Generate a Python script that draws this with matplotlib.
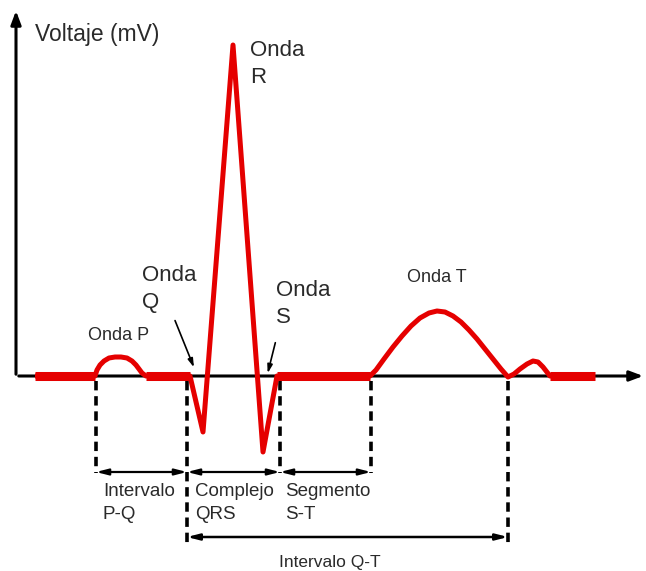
import matplotlib.pyplot as plt

plt.rcParams['font.family'] = ['Liberation Sans', 'DejaVu Sans']

# trace (pixel coords, y grows downwards)
trace_x = [35, 95, 97, 100, 104, 109, 115, 121, 127, 132, 136, 139, 142, 146, 190, 203, 233, 263, 277,
           370, 376, 384, 393, 402, 411, 420, 429, 437, 445, 453, 461, 469, 477, 485, 493, 501, 508,
           514, 520, 527, 533, 538, 543, 550, 595]
trace_y = [376, 376, 370, 365, 361, 358, 357, 357, 358, 361, 365, 369, 373, 376, 376, 432, 45, 452, 376,
           376, 370, 359, 347, 336, 326, 318, 313, 311, 312, 316, 322, 330, 339, 349, 359, 369, 377,
           374, 369, 364, 361, 362, 367, 376, 376]
# flat stretches drawn thicker
flat_x = [(35, 95), (146, 190), (277, 370), (550, 595)]
baseline = 376

# dashed markers and interval arrows
mark_x = [96, 187, 280, 371, 508]
mark_bottom = [473, 545, 473, 473, 545]
spans = [(96, 187), (187, 280), (280, 371)]
span_y = 472
qt_span = (187, 508)
qt_y = 537

wave_labels = [
    ("Onda\nR", 250, 40),
    ("Onda\nQ", 142, 265),
    ("Onda\nS", 276, 280),
]
small_labels = [("Onda P", 88, 336), ("Onda T", 407, 278)]
interval_labels = [
    ("Intervalo\nP-Q", 103, 483),
    ("Complejo\nQRS", 195, 483),
    ("Segmento\nS-T", 285, 483),
]

RED = '#e50000'
TXT = '#2a2a2a'

fig = plt.figure(figsize=(6.46, 5.71), dpi=100)
ax = fig.add_axes([0, 0, 1, 1])
ax.set_xlim(0, 646)
ax.set_ylim(571, 0)
ax.axis('off')

# axes arrows
ax.annotate('', xy=(16, 8), xytext=(16, baseline + 1),
            arrowprops=dict(arrowstyle='-|>,head_length=0.8,head_width=0.3', lw=2.2, color='black'))
ax.annotate('', xy=(646, baseline), xytext=(16, baseline),
            arrowprops=dict(arrowstyle='-|>,head_length=0.8,head_width=0.3', lw=2.2, color='black'))

# ecg trace
ax.plot(trace_x, trace_y, color=RED, lw=3.6, solid_joinstyle='round', solid_capstyle='butt', zorder=3)
for x0, x1 in flat_x:
    ax.plot([x0, x1], [baseline, baseline], color=RED, lw=6.5, solid_capstyle='butt', zorder=3)

# dashed verticals
for x, yb in zip(mark_x, mark_bottom):
    ax.plot([x, x], [381, yb], color='black', lw=2.6, linestyle=(0, (2.6, 1.6)), zorder=2)

for x0, x1 in spans:
    ax.annotate('', xy=(x1, span_y), xytext=(x0, span_y),
                arrowprops=dict(arrowstyle='<|-|>,head_length=0.7,head_width=0.18', lw=1.6,
                                color='black', shrinkA=0, shrinkB=0))
ax.annotate('', xy=(qt_span[1], qt_y), xytext=(qt_span[0], qt_y),
            arrowprops=dict(arrowstyle='<|-|>,head_length=0.7,head_width=0.18', lw=1.8,
                            color='black', shrinkA=0, shrinkB=0))

# pointer arrows for Q and S
ax.annotate('', xy=(195, 370), xytext=(174, 318),
            arrowprops=dict(arrowstyle='-|>,head_length=0.5,head_width=0.15', lw=1.2, color='black'))
ax.annotate('', xy=(267, 376), xytext=(276, 340),
            arrowprops=dict(arrowstyle='-|>,head_length=0.5,head_width=0.15', lw=1.2, color='black'))

# texts
ax.text(35, 35, "Voltaje (mV)", fontsize=16.5, color=TXT, va='center', ha='left')
for s, x, y in wave_labels:
    ax.text(x, y, s, fontsize=16, color=TXT, va='top', ha='left', linespacing=1.4)
for s, x, y in small_labels:
    ax.text(x, y, s, fontsize=13, color=TXT, va='center', ha='left')
for s, x, y in interval_labels:
    ax.text(x, y, s, fontsize=13.5, color=TXT, va='top', ha='left', linespacing=1.45)
ax.text(330, 562, "Intervalo Q-T", fontsize=12.5, color=TXT, va='center', ha='center')

fig.savefig('out.png', dpi=100)
